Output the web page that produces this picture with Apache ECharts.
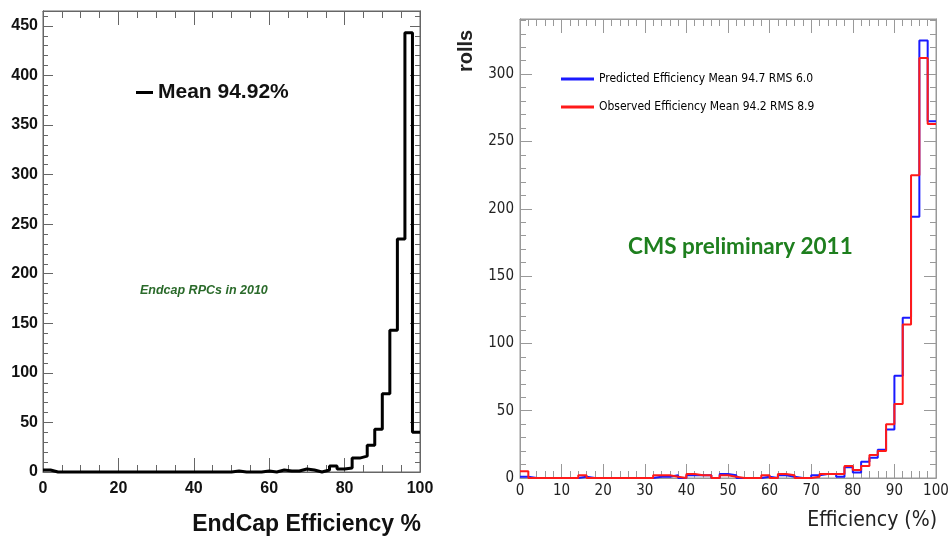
<!DOCTYPE html>
<html>
<head>
<meta charset="utf-8">
<script src="https://cdn.jsdelivr.net/npm/echarts@6/dist/echarts.min.js"></script>
<style>html,body{margin:0;padding:0;background:#fff;}#c{width:952px;height:545px;}</style>
</head>
<body>
<div id="c"></div>
<script>
// Bin lower edges (%), bin width 2
var binEdges = [0,2,4,6,8,10,12,14,16,18,20,22,24,26,28,30,32,34,36,38,40,42,44,46,48,50,52,54,56,58,60,62,64,66,68,70,72,74,76,78,80,82,84,86,88,90,92,94,96,98];
var binUpper = 100;

// Left: EndCap RPCs in 2010
var endcapCounts = [2,0,0,0,0,0,0,0,0,0, 0,0,0,0,0,0,0,0,0,0, 0,0,0,0,0,1,0,0,0,1, 0,2,1,1,3,2,0,2,6,3, 4,14,16,27,43,79,143,235,443,40];

// Right: 2011 predicted / observed
var predictedCounts = [1,0,0,0,0,0,0,1,0,0, 0,0,0,0,0,0,1,1,2,0, 2,2,2,0,3,2,0,0,0,1, 0,2,1,0,0,2,3,3,1,8, 4,12,15,21,36,76,119,194,325,265];
var observedCounts  = [5,0,0,0,0,0,0,2,0,0, 0,0,0,0,0,0,2,2,1,0, 3,2,2,0,2,1,0,0,0,2, 0,3,2,0,0,1,3,3,3,9, 6,9,17,20,40,55,114,225,312,263];

var leftXTicks = [0,20,40,60,80,100];
var leftYTicks = [0,50,100,150,200,250,300,350,400,450];
var rightXTicks = [0,10,20,30,40,50,60,70,80,90,100];
var rightYTicks = [0,50,100,150,200,250,300];

var leftName = 'Mean 94.92%';
var predName = 'Predicted Efficiency Mean 94.7 RMS 6.0';
var obsName = 'Observed Efficiency Mean 94.2 RMS 8.9';

function stepPoints(counts) {
  var pts = [];
  for (var i = 0; i < counts.length; i++) pts.push([binEdges[i], counts[i]]);
  pts.push([binUpper, counts[counts.length - 1]]);
  return pts;
}

var boldFont = 'Liberation Sans, Arial, Helvetica, sans-serif';
var narrowFont = 'DejaVu Sans Condensed, Liberation Sans Narrow, sans-serif';

function xAx(grid, pos, interval, splitN, majLen, minLen, color, labelStyle, ticks) {
  return {
    type: 'value', gridIndex: grid, position: pos, min: 0, max: 100, interval: interval,
    axisLine: {show: true, onZero: false, lineStyle: {color: color, width: 1}},
    axisTick: {show: true, inside: true, length: majLen, lineStyle: {color: color, width: 1}},
    minorTick: {show: true, splitNumber: splitN, length: minLen, lineStyle: {color: color, width: 1}},
    splitLine: {show: false},
    axisLabel: labelStyle ? Object.assign({show: true, formatter: function (v) { return ticks.indexOf(v) >= 0 ? String(v) : ''; }}, labelStyle) : {show: false}
  };
}
function yAx(grid, pos, max, interval, len, color, labelStyle, ticks) {
  return {
    type: 'value', gridIndex: grid, position: pos, min: 0, max: max, interval: interval,
    axisLine: {show: true, onZero: false, lineStyle: {color: color, width: 1}},
    axisTick: {show: true, inside: true, length: len, lineStyle: {color: color, width: 1}},
    splitLine: {show: false},
    axisLabel: labelStyle ? Object.assign({show: true, showMaxLabel: false, formatter: function (v) { return ticks.indexOf(v) >= 0 ? String(v) : ''; }}, labelStyle) : {show: false}
  };
}

var lc = '#666', rc = '#999';
var leftLabel = {fontFamily: boldFont, fontWeight: 'bold', fontSize: 16, color: '#111'};
var rightLabel = {fontFamily: narrowFont, fontSize: 15, color: '#222'};

var option = {
  animation: false,
  backgroundColor: '#fff',
  grid: [
    {left: 43, top: 11, width: 377, height: 461, show: true, borderColor: lc, borderWidth: 1},
    {left: 520, top: 19, width: 416, height: 459, show: true, borderColor: rc, borderWidth: 1}
  ],
  xAxis: [
    xAx(0, 'bottom', 20, 4, 14, 7, lc, Object.assign({margin: 9}, leftLabel), leftXTicks),
    xAx(0, 'top', 20, 4, 14, 7, lc, null),
    xAx(1, 'bottom', 10, 5, 14, 7, rc, Object.assign({margin: 6}, rightLabel), rightXTicks),
    xAx(1, 'top', 10, 5, 14, 7, rc, null)
  ],
  yAxis: [
    yAx(0, 'left', 465, 50, 10, lc, Object.assign({margin: 5}, leftLabel), leftYTicks),
    yAx(0, 'left', 465, 10, 5, lc, null),
    yAx(0, 'right', 465, 50, 10, lc, null),
    yAx(0, 'right', 465, 10, 5, lc, null),
    yAx(1, 'left', 341, 50, 12, rc, Object.assign({margin: 6}, rightLabel), rightYTicks),
    yAx(1, 'left', 341, 10, 6, rc, null),
    yAx(1, 'right', 341, 50, 12, rc, null),
    yAx(1, 'right', 341, 10, 6, rc, null)
  ],
  legend: [
    {
      data: [leftName], left: 131, top: 77, icon: 'rect', itemWidth: 17, itemHeight: 3,
      textStyle: {fontFamily: boldFont, fontWeight: 'bold', fontSize: 21, color: '#111'}
    },
    {
      data: [predName, obsName], orient: 'vertical', left: 556, top: 66, icon: 'rect',
      itemWidth: 33, itemHeight: 3, itemGap: 12,
      textStyle: {fontFamily: narrowFont, fontSize: 12, color: '#000', lineHeight: 16}
    }
  ],
  series: [
    {name: leftName, type: 'line', xAxisIndex: 0, yAxisIndex: 0, step: 'end', showSymbol: false, clip: false,
     data: stepPoints(endcapCounts), itemStyle: {color: '#000'}, lineStyle: {color: '#000', width: 3}},
    {name: predName, type: 'line', xAxisIndex: 2, yAxisIndex: 4, step: 'end', showSymbol: false, clip: false,
     data: stepPoints(predictedCounts), itemStyle: {color: '#1a1aff'}, lineStyle: {color: '#1a1aff', width: 2}},
    {name: obsName, type: 'line', xAxisIndex: 2, yAxisIndex: 4, step: 'end', showSymbol: false, clip: false,
     data: stepPoints(observedCounts), itemStyle: {color: '#ff1a1a'}, lineStyle: {color: '#ff1a1a', width: 2}}
  ],
  graphic: [
    {type: 'text', right: 952 - 421, top: 513, style: {text: 'EndCap Efficiency %', font: 'bold 23px ' + boldFont, fill: '#111'}},
    {type: 'text', left: 140, top: 284, style: {text: 'Endcap RPCs in 2010', font: 'italic bold 12.5px ' + boldFont, fill: '#2a6a2a'}},
    {type: 'text', right: 952 - 937, top: 510, style: {text: 'Efficiency (%)', font: '21px ' + narrowFont, fill: '#222'}},
    {type: 'text', left: 628, top: 235, style: {text: 'CMS preliminary 2011', font: 'bold 22.5px Lato, ' + boldFont, fill: '#1e7f1e'}},
    {type: 'text', x: 456, y: 72, rotation: Math.PI / 2, style: {text: 'rolls', font: 'bold 20px ' + boldFont, fill: '#222', textVerticalAlign: 'top'}}
  ]
};

var chart = echarts.init(document.getElementById('c'), null, {renderer: 'canvas'});
chart.setOption(option);
</script>
</body>
</html>
